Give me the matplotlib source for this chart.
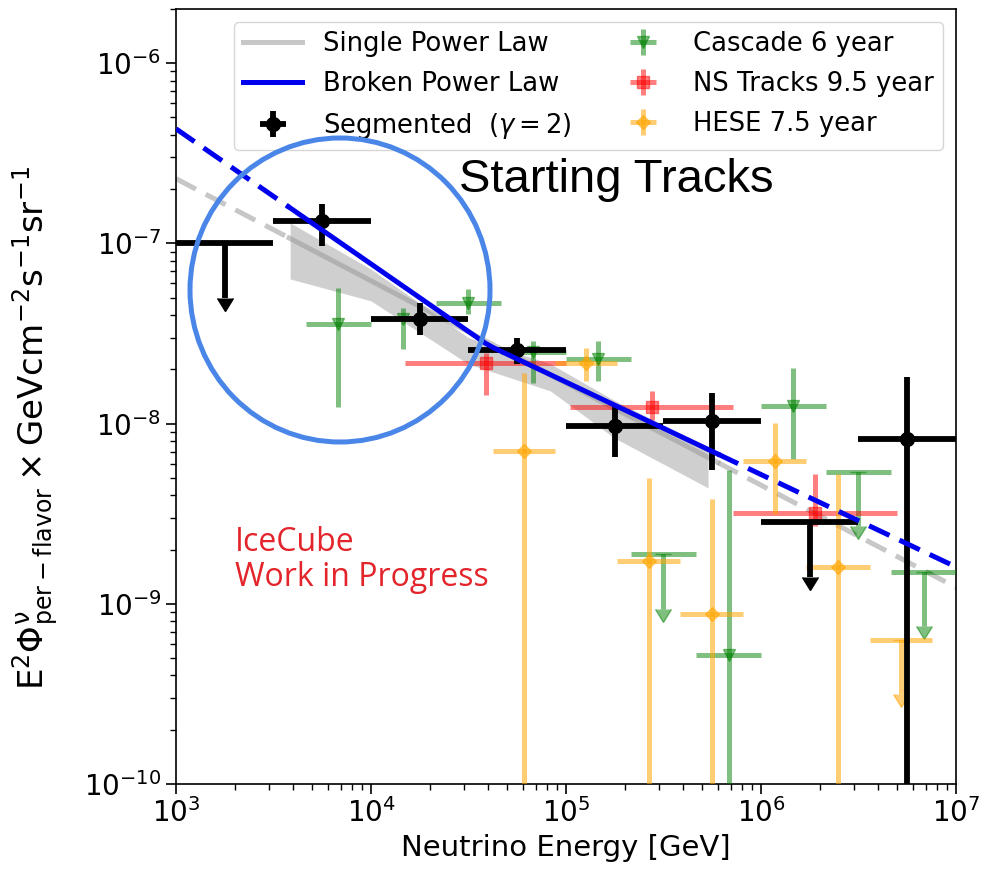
#!/usr/bin/env python3
"""Per-flavour astrophysical neutrino spectrum: starting tracks fits vs. other IceCube samples."""

import matplotlib

matplotlib.use("Agg")
import matplotlib.pyplot as plt
import numpy as np
from matplotlib.patches import Ellipse

# Segmented unfolding (gamma = 2), half-decade bins. NaN bounds mark upper limits.
seg_lo = [1.0e3, 3.16e3, 1.0e4, 3.16e4, 1.0e5, 3.16e5, 1.0e6, 3.16e6]
seg_hi = [3.16e3, 1.0e4, 3.16e4, 1.0e5, 3.16e5, 1.0e6, 3.16e6, 1.0e7]
seg_flux = [1.0e-7, 1.33e-7, 3.82e-8, 2.57e-8, 9.75e-9, 1.03e-8, 2.83e-9, 8.26e-9]
seg_low = [np.nan, 9.7e-8, 3.1e-8, 2.15e-8, 6.5e-9, 5.5e-9, np.nan, 1e-12]
seg_high = [np.nan, 1.66e-7, 4.68e-8, 2.99e-8, 1.26e-8, 1.47e-8, np.nan, 1.82e-8]
seg_ul = [True, False, False, False, False, False, True, False]

# Cascade 6 year, third-of-a-decade bins
casc_lo = [4.64e3, 1.0e4, 2.15e4, 4.64e4, 1.0e5, 2.15e5, 4.64e5, 1.0e6, 2.15e6, 4.64e6]
casc_hi = [1.0e4, 2.15e4, 4.64e4, 1.0e5, 2.15e5, 4.64e5, 1.0e6, 2.15e6, 4.64e6, 1.0e7]
casc_flux = [3.58e-8, 3.8e-8, 4.68e-8, 2.5e-8, 2.29e-8, 1.88e-9, 5.19e-10, 1.26e-8, 5.42e-9, 1.51e-9]
casc_low = [1.23e-8, 2.6e-8, 4.07e-8, 1.67e-8, 1.73e-8, np.nan, 1e-12, 6.4e-9, np.nan, np.nan]
casc_high = [5.66e-8, 4.4e-8, 5.6e-8, 2.88e-8, 2.88e-8, np.nan, 5.5e-9, 2.04e-8, np.nan, np.nan]
casc_ul = [False, False, False, False, False, True, False, False, True, True]

# Northern-sky tracks 9.5 year
ns_lo = [1.5e4, 1.05e5, 7.2e5]
ns_hi = [1.0e5, 7.2e5, 5.0e6]
ns_flux = [2.18e-8, 1.23e-8, 3.21e-9]
ns_low = [1.45e-8, 1.05e-8, 2.7e-9]
ns_high = [2.47e-8, 1.52e-8, 5.25e-9]
ns_ul = [False, False, False]

# HESE 7.5 year
hese_lo = [4.2e4, 8.8e4, 1.83e5, 3.85e5, 8.1e5, 1.7e6, 3.62e6]
hese_hi = [8.8e4, 1.83e5, 3.85e5, 8.1e5, 1.7e6, 3.62e6, 7.5e6]
hese_flux = [7.08e-9, 2.18e-8, 1.72e-9, 8.75e-10, 6.24e-9, 1.61e-9, 6.28e-10]
hese_low = [1e-12, 1.73e-8, 1e-12, 1e-12, 3.17e-9, 1e-12, np.nan]
hese_high = [1.92e-8, 2.64e-8, 5.02e-9, 3.84e-9, 1.01e-8, 5.28e-9, np.nan]
hese_ul = [False, False, False, False, False, False, True]

# Fitted spectra (E^2 Phi, GeV cm^-2 s^-1 sr^-1)
spl_norm, spl_pivot, spl_gamma = 1.68e-8, 1.0e5, 2.567
bpl_norm, bpl_break, bpl_gamma1, bpl_gamma2 = 2.72e-8, 4.0e4, 2.75, 2.513
fit_emin, fit_emax = 3.8e3, 6.0e5

# Single power law uncertainty band over the sensitive range
band_energy = [3.85e3, 1.0e4, 3.16e4, 8.3e4, 1.78e5, 5.35e5]
band_upper = [1.30e-7, 7.2e-8, 3.0e-8, 2.15e-8, 1.34e-8, 7.4e-9]
band_lower = [6.35e-8, 4.8e-8, 2.14e-8, 1.52e-8, 8.3e-9, 4.4e-9]


def single_pl(e):
    return spl_norm * (e / spl_pivot) ** (2 - spl_gamma)


def broken_pl(e):
    gamma = np.where(e < bpl_break, bpl_gamma1, bpl_gamma2)
    return bpl_norm * (e / bpl_break) ** (2 - gamma)


def draw_model(ax, func, color, lw, alpha, label, z):
    left = np.geomspace(1e3, fit_emin, 20)
    mid = np.geomspace(fit_emin, fit_emax, 60)
    right = np.geomspace(fit_emax, 1e7, 30)
    dash = (4.5, 2.2)
    ax.plot(left, func(left), color=color, lw=lw, alpha=alpha, dashes=dash, zorder=z)
    ax.plot(right, func(right), color=color, lw=lw, alpha=alpha, dashes=dash, zorder=z)
    (line,) = ax.plot(mid, func(mid), color=color, lw=lw, alpha=alpha, label=label, zorder=z)
    return line


def draw_points(ax, lo, hi, flux, low, high, ul, color, marker, ms, alpha, lw, label, z):
    lo, hi = np.asarray(lo, float), np.asarray(hi, float)
    flux = np.asarray(flux, float)
    low, high = np.asarray(low, float), np.asarray(high, float)
    ul = np.asarray(ul, bool)
    x = np.sqrt(lo * hi)
    pt = ~ul
    cont = ax.errorbar(
        x[pt], flux[pt],
        xerr=[x[pt] - lo[pt], hi[pt] - x[pt]],
        yerr=[flux[pt] - low[pt], high[pt] - flux[pt]],
        fmt=marker, color=color, ms=ms, elinewidth=lw, capsize=0,
        alpha=alpha, label=label, zorder=z,
    )
    if ul.any():
        ax.errorbar(x[ul], flux[ul], xerr=[x[ul] - lo[ul], hi[ul] - x[ul]], fmt="none",
                    ecolor=color, elinewidth=lw, capsize=0, alpha=alpha, zorder=z)
        arrows = ax.errorbar(x[ul], flux[ul], yerr=0.5 * flux[ul], uplims=True, fmt="none",
                             ecolor=color, elinewidth=lw, capsize=6, alpha=alpha, zorder=z)
        for cap in arrows[1]:
            cap.set_markerfacecolor(color)
            cap.set_markeredgecolor(color)
    return cont


fig = plt.figure(figsize=(9.86, 8.74), dpi=100)
ax = fig.add_axes([0.1785, 0.1030, 0.7911, 0.8867])
ax.set_xscale("log")
ax.set_yscale("log")

ax.fill_between(band_energy, band_lower, band_upper, color="#b0b0b0", alpha=0.6, lw=0, zorder=1)
h_spl = draw_model(ax, single_pl, "#9a9a9a", 3.6, 0.55, "Single Power Law", 2)
h_bpl = draw_model(ax, broken_pl, "#0000ee", 3.6, 1.0, "Broken Power Law", 6)

h_casc = draw_points(ax, casc_lo, casc_hi, casc_flux, casc_low, casc_high, casc_ul,
                     "green", "v", 9, 0.5, 3.6, "Cascade 6 year", 3)
h_ns = draw_points(ax, ns_lo, ns_hi, ns_flux, ns_low, ns_high, ns_ul,
                   "red", "s", 9, 0.5, 3.6, "NS Tracks 9.5 year", 3)
h_hese = draw_points(ax, hese_lo, hese_hi, hese_flux, hese_low, hese_high, hese_ul,
                     "orange", "D", 7, 0.55, 3.6, "HESE 7.5 year", 3)
h_seg = draw_points(ax, seg_lo, seg_hi, seg_flux, seg_low, seg_high, seg_ul,
                    "black", "o", 10, 1.0, 4.2, r"Segmented  $(\gamma = 2)$", 5)

ax.set_xlim(1e3, 1e7)
ax.set_ylim(1e-10, 2e-6)
ax.tick_params(which="major", labelsize=20, length=7, width=1.2)
ax.tick_params(which="minor", length=4, width=1.0)
for spine in ax.spines.values():
    spine.set_linewidth(1.2)

ax.set_xlabel("Neutrino Energy [GeV]", fontsize=21)
ax.set_ylabel(r"$\mathrm{E^2\Phi^{\nu}_{per-flavor}\times GeVcm^{-2}s^{-1}sr^{-1}}$", fontsize=24.5)
ax.yaxis.set_label_coords(-0.148, 0.459)

ax.legend(
    [h_spl, h_bpl, h_seg, h_casc, h_ns, h_hese],
    ["Single Power Law", "Broken Power Law", r"Segmented  $(\gamma = 2)$",
     "Cascade 6 year", "NS Tracks 9.5 year", "HESE 7.5 year"],
    ncol=2, loc="upper right", fontsize=18.6, handlelength=2.3, columnspacing=1.6,
    labelspacing=0.55, borderpad=0.35,
)

ax.text(0.0756, 0.333, "IceCube\nWork in Progress", transform=ax.transAxes,
        ha="left", va="top", color="#e3242b", fontsize=23, family="Open Sans",
        linespacing=1.1)

fig.text(616 / 986, 1 - 180 / 874, "Starting Tracks", ha="center", va="center",
         fontsize=34, family="Liberation Sans")
fig.add_artist(Ellipse((340 / 986, 1 - 290 / 874), 300 / 986, 304 / 874,
                       transform=fig.transFigure, fill=False, ec="#4a86e8", lw=3.6,
                       zorder=10))

fig.savefig("out.png", dpi=100)
